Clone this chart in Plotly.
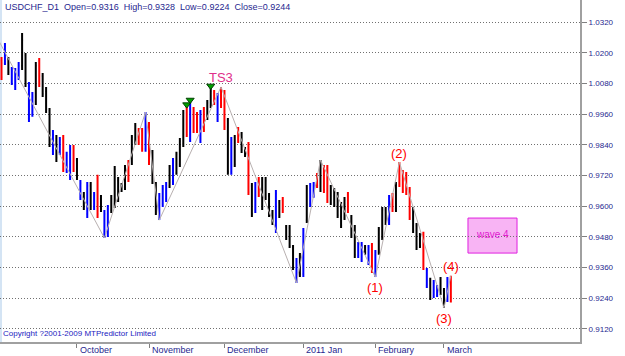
import plotly.graph_objects as go
import pandas as pd

# ---------------- data ----------------
dates = pd.bdate_range("2010-09-01", periods=132)

opens = [
    1.0170, 1.0160, 1.0175, 1.0085, 1.0070, 1.0100, 1.0150, 1.0190, 0.9945, 0.9960,
    1.0010, 1.0170, 1.0110, 1.0050, 0.9975, 0.9815, 0.9865, 0.9810, 0.9865, 0.9740,
    0.9715, 0.9830, 0.9780, 0.9635, 0.9645, 0.9570, 0.9680, 0.9595, 0.9710, 0.9630,
    0.9490, 0.9495, 0.9585, 0.9610, 0.9700, 0.9665, 0.9675, 0.9770, 0.9775, 0.9850,
    0.9900, 0.9895, 0.9825, 0.9920, 0.9810, 0.9685, 0.9560, 0.9610, 0.9630, 0.9680,
    0.9695, 0.9730, 0.9765, 0.9845, 0.9985, 0.9865, 0.9980, 0.9960, 0.9860, 0.9980,
    0.9945, 0.9995, 1.0045, 0.9940, 1.0060, 1.0045, 0.9935, 0.9735, 0.9870, 0.9900,
    0.9860, 0.9825, 0.9845, 0.9680, 0.9585, 0.9705, 0.9650, 0.9630, 0.9640, 0.9575,
    0.9510, 0.9615, 0.9625, 0.9520, 0.9515, 0.9440, 0.9310, 0.9405, 0.9335, 0.9545,
    0.9610, 0.9640, 0.9720, 0.9670, 0.9750, 0.9750, 0.9615, 0.9660, 0.9645, 0.9560,
    0.9555, 0.9645, 0.9555, 0.9515, 0.9405, 0.9390, 0.9440, 0.9380, 0.9450, 0.9330,
    0.9420, 0.9480, 0.9585, 0.9535, 0.9645, 0.9590, 0.9765, 0.9735, 0.9725, 0.9665,
    0.9585, 0.9525, 0.9490, 0.9490, 0.9290, 0.9310, 0.9250, 0.9250, 0.9315, 0.9270,
    0.9235, 0.9316,
]
highs = [
    1.0184, 1.0239, 1.0184, 1.0145, 1.0141, 1.0165, 1.0278, 1.0200, 1.0086, 1.0047,
    1.0165, 1.0180, 1.0122, 1.0067, 0.9985, 0.9899, 0.9879, 0.9871, 0.9879, 0.9813,
    0.9840, 0.9840, 0.9789, 0.9703, 0.9656, 0.9695, 0.9695, 0.9656, 0.9723, 0.9644,
    0.9586, 0.9605, 0.9644, 0.9758, 0.9715, 0.9691, 0.9762, 0.9781, 0.9879, 0.9926,
    0.9906, 0.9906, 0.9969, 0.9930, 0.9820, 0.9695, 0.9652, 0.9683, 0.9695, 0.9762,
    0.9789, 0.9813, 0.9867, 0.9977, 0.9996, 1.0016, 0.9989, 0.9969, 0.9977, 0.9989,
    1.0016, 1.0063, 1.0055, 1.0043, 1.0067, 1.0055, 0.9946, 0.9871, 0.9879, 0.9910,
    0.9891, 0.9832, 0.9852, 0.9691, 0.9695, 0.9715, 0.9715, 0.9715, 0.9652, 0.9586,
    0.9664, 0.9625, 0.9636, 0.9527, 0.9527, 0.9449, 0.9398, 0.9417, 0.9515, 0.9683,
    0.9691, 0.9695, 0.9730, 0.9781, 0.9762, 0.9762, 0.9683, 0.9672, 0.9656, 0.9617,
    0.9636, 0.9656, 0.9566, 0.9527, 0.9460, 0.9460, 0.9449, 0.9449, 0.9456, 0.9429,
    0.9519, 0.9597, 0.9597, 0.9644, 0.9652, 0.9695, 0.9773, 0.9742, 0.9734, 0.9676,
    0.9597, 0.9535, 0.9496, 0.9500, 0.9359, 0.9320, 0.9312, 0.9292, 0.9323, 0.9280,
    0.9323, 0.9328,
]
lows = [
    1.0094, 1.0153, 1.0114, 1.0075, 1.0055, 1.0094, 1.0133, 1.0067, 0.9930, 0.9950,
    0.9996, 1.0067, 1.0028, 0.9965, 0.9832, 0.9801, 0.9773, 0.9801, 0.9734, 0.9730,
    0.9703, 0.9734, 0.9703, 0.9625, 0.9586, 0.9554, 0.9586, 0.9586, 0.9554, 0.9578,
    0.9476, 0.9480, 0.9574, 0.9593, 0.9617, 0.9656, 0.9664, 0.9695, 0.9762, 0.9840,
    0.9840, 0.9813, 0.9813, 0.9762, 0.9687, 0.9566, 0.9546, 0.9597, 0.9617, 0.9672,
    0.9683, 0.9723, 0.9754, 0.9832, 0.9871, 0.9852, 0.9887, 0.9887, 0.9848, 0.9891,
    0.9938, 0.9985, 0.9996, 0.9930, 0.9985, 0.9899, 0.9723, 0.9723, 0.9754, 0.9848,
    0.9809, 0.9793, 0.9644, 0.9558, 0.9574, 0.9636, 0.9586, 0.9625, 0.9558, 0.9527,
    0.9496, 0.9554, 0.9574, 0.9468, 0.9437, 0.9351, 0.9300, 0.9323, 0.9323, 0.9535,
    0.9597, 0.9633, 0.9672, 0.9656, 0.9652, 0.9613, 0.9605, 0.9597, 0.9554, 0.9515,
    0.9546, 0.9574, 0.9476, 0.9398, 0.9398, 0.9382, 0.9410, 0.9370, 0.9339, 0.9323,
    0.9410, 0.9468, 0.9527, 0.9527, 0.9578, 0.9578, 0.9676, 0.9652, 0.9644, 0.9546,
    0.9496, 0.9429, 0.9437, 0.9351, 0.9280, 0.9233, 0.9241, 0.9245, 0.9253, 0.9202,
    0.9226, 0.9224,
]
closes = [
    1.0105, 1.0225, 1.0125, 1.0130, 1.0120, 1.0150, 1.0250, 1.0080, 1.0070, 1.0030,
    1.0150, 1.0080, 1.0040, 0.9980, 0.9845, 0.9880, 0.9790, 0.9860, 0.9745, 0.9800,
    0.9825, 0.9745, 0.9715, 0.9690, 0.9600, 0.9680, 0.9600, 0.9645, 0.9570, 0.9590,
    0.9570, 0.9590, 0.9630, 0.9745, 0.9630, 0.9680, 0.9750, 0.9705, 0.9870, 0.9915,
    0.9850, 0.9825, 0.9955, 0.9775, 0.9695, 0.9575, 0.9640, 0.9670, 0.9685, 0.9755,
    0.9775, 0.9805, 0.9855, 0.9965, 0.9880, 1.0005, 0.9895, 0.9895, 0.9965, 0.9900,
    1.0005, 1.0050, 1.0005, 1.0035, 0.9995, 0.9910, 0.9735, 0.9860, 0.9765, 0.9855,
    0.9820, 0.9800, 0.9655, 0.9570, 0.9685, 0.9645, 0.9600, 0.9700, 0.9570, 0.9540,
    0.9650, 0.9565, 0.9585, 0.9475, 0.9445, 0.9360, 0.9385, 0.9335, 0.9505, 0.9670,
    0.9680, 0.9690, 0.9680, 0.9770, 0.9665, 0.9620, 0.9670, 0.9605, 0.9565, 0.9525,
    0.9625, 0.9585, 0.9485, 0.9410, 0.9450, 0.9450, 0.9420, 0.9440, 0.9345, 0.9420,
    0.9510, 0.9585, 0.9535, 0.9635, 0.9585, 0.9685, 0.9685, 0.9660, 0.9650, 0.9555,
    0.9505, 0.9440, 0.9445, 0.9360, 0.9350, 0.9240, 0.9300, 0.9285, 0.9260, 0.9210,
    0.9315, 0.9244,
]
# bar colour class per bar: R = red, B = blue, K = black
bar_class = list(
    "RBKBBBKKBB" "KRKKKBKBRB" "BRKBKBKBRK" "BBKKKKKRKK" "RRBRKKBBBK"
    "BKKKRBRRBR" "KKRBRRKBKR" "KKRKBRKKKK" "BKRKKKBKBK" "BBRKRRKKKK"
    "KRKKBBKBRB" "KKKBRKRRRR" "KKKRBKBBKK" "BR"
)

# zigzag swing points (bar index, price)
zz_idx = [-1, 30, 42, 46, 64, 86, 93, 109, 116, 129, 131]
zz_price = [1.0253, 0.9476, 0.9969, 0.9546, 1.0067, 0.9300, 0.9781, 0.9323, 0.9773, 0.9202, 0.9328]

# green signal triangles
sig_idx = [54, 55, 61]
sig_price = [0.9998, 1.0016, 1.0071]

month_labels = ["October", "November", "December", "2011 Jan", "February", "March"]
y_ticks = [0.9120, 0.9240, 0.9360, 0.9480, 0.9600, 0.9720, 0.9840, 0.9960, 1.0080, 1.0200, 1.0320]
y_ticktext = ["0.9120", "0.9240", "0.9360", "0.9480", "0.9600", "0.9720",
              "0.9840", "0.9960", "1.0080", "1.0200", "1.0320"]

wave_labels = ["(1)", "(2)", "(3)", "(4)"]
wave_bars = [109, 116, 129, 131]
wave_side = ["low", "high", "low", "high"]

wave4_box = dict(bar0=136.0, bar1=150.3, top=0.9554, bottom=0.9417)

title_text = "\u00a0\u00a0".join(["USDCHF_D1", "Open=0.9316", "High=0.9328", "Low=0.9224", "Close=0.9244"])
copyright_text = "Copyright ?2001-2009 MTPredictor Limited"

# ---------------- figure ----------------
FONT = "Liberation Sans, Arial, sans-serif"
NAVY = "#1f1f8f"
colors = {"B": "#0000ff", "R": "#ff0000", "K": "#000000"}

fig = go.Figure()

fig.add_trace(go.Scatter(
    x=zz_idx, y=zz_price, mode="lines",
    line=dict(color="#b8b0b0", width=1), hoverinfo="skip"))

for code, col in colors.items():
    idx = [i for i, c in enumerate(bar_class) if c == code]
    fig.add_trace(go.Ohlc(
        x=idx,
        open=[opens[i] for i in idx], high=[highs[i] for i in idx],
        low=[lows[i] for i in idx], close=[closes[i] for i in idx],
        increasing=dict(line=dict(color=col, width=2)),
        decreasing=dict(line=dict(color=col, width=2)),
        tickwidth=0.3, hoverinfo="none"))

fig.add_trace(go.Scatter(
    x=sig_idx, y=sig_price, mode="markers",
    marker=dict(symbol="triangle-down", size=7, color="#00a000",
                line=dict(color="#004000", width=1)),
    hoverinfo="skip"))

# month starts
month_idx = [i for i in range(1, len(dates)) if dates[i].month != dates[i - 1].month]

annotations = []
for i, lab in zip(month_idx, month_labels):
    annotations.append(dict(
        x=i, y=0, xref="x", yref="paper", text=lab, showarrow=False,
        xanchor="left", yanchor="top", xshift=1, yshift=-1,
        font=dict(family=FONT, size=9, color=NAVY)))

annotations.append(dict(
    x=0, y=1, xref="paper", yref="paper", text=title_text, showarrow=False,
    xanchor="left", yanchor="top", xshift=3, yshift=0,
    font=dict(family=FONT, size=9, color=NAVY)))
annotations.append(dict(
    x=0, y=0, xref="paper", yref="paper", text=copyright_text, showarrow=False,
    xanchor="left", yanchor="bottom", xshift=1, yshift=2,
    font=dict(family=FONT, size=8, color="#2222c0")))

for lab, b, side in zip(wave_labels, wave_bars, wave_side):
    if side == "low":
        yv, sh = lows[b], -10
    else:
        yv, sh = highs[b], 9
    annotations.append(dict(
        x=b, y=yv, text=lab, showarrow=False, xanchor="center", yanchor="middle",
        yshift=sh, font=dict(family=FONT, size=13, color="#ff0000")))

annotations.append(dict(
    x=64, y=highs[64], text="TS3", showarrow=False, xanchor="center", yanchor="middle",
    yshift=9, font=dict(family=FONT, size=13, color="#e0308a")))

annotations.append(dict(
    x=(wave4_box["bar0"] + wave4_box["bar1"]) / 2,
    y=(wave4_box["top"] + wave4_box["bottom"]) / 2,
    text="wave 4", showarrow=False, xanchor="center", yanchor="middle", yshift=1,
    font=dict(family=FONT, size=10, color="#e020d0")))

shapes = [
    dict(type="rect", xref="x", yref="y",
         x0=wave4_box["bar0"], x1=wave4_box["bar1"],
         y0=wave4_box["bottom"], y1=wave4_box["top"],
         fillcolor="#f8b4f4", line=dict(color="#e020e0", width=1), layer="below"),
    dict(type="rect", xref="paper", yref="paper", x0=0, x1=0.0035, y0=0, y1=1,
         fillcolor="#d4e4f4", line=dict(width=0), layer="below"),
]

fig.update_layout(
    width=625, height=356,
    margin=dict(l=0, r=45, t=0, b=14),
    paper_bgcolor="white", plot_bgcolor="white",
    showlegend=False,
    annotations=annotations, shapes=shapes,
    xaxis=dict(
        range=[-0.44, 168.66], showgrid=False, zeroline=False,
        showline=True, linecolor="#a0a0a0", linewidth=2,
        ticks="outside", ticklen=4, tickcolor="#808080",
        tickvals=month_idx, showticklabels=False,
        rangeslider=dict(visible=False), fixedrange=True),
    yaxis=dict(
        side="right", range=[0.90690, 1.04073],
        tickvals=y_ticks, ticktext=y_ticktext,
        tickfont=dict(family=FONT, size=8, color=NAVY),
        showgrid=True, gridcolor="#707070", griddash="1px,2px", gridwidth=1,
        zeroline=False, showline=True, linecolor="#a0a0a0", linewidth=2,
        ticks="outside", ticklen=5, tickcolor="#808080", fixedrange=True),
)

fig.write_html("out.html")
